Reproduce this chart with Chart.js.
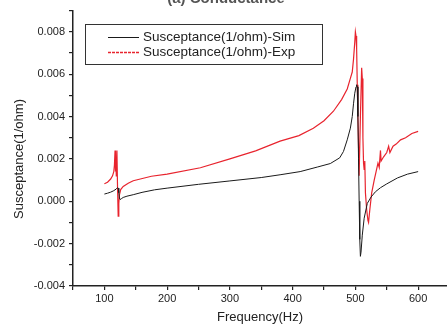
<!DOCTYPE html>
<html>
<head>
<meta charset="utf-8">
<script src="https://cdn.jsdelivr.net/npm/chart.js@4"></script>
<style>
  html, body { margin: 0; padding: 0; background: #fff; overflow: hidden; }
  #graph { display: block; }
</style>
</head>
<body>
<canvas id="graph" width="447" height="330"></canvas>
<script>
// frequency (Hz) and susceptance (1/ohm)
var simFreq = [100, 105, 110, 115, 119, 121, 122, 123, 124, 125, 127, 130, 136, 146, 160, 180, 200, 250, 300, 350, 380, 412, 440, 460, 475, 481, 487, 492, 495, 497, 499, 501, 502, 503, 504, 505, 506, 507, 508, 509, 511, 514, 519, 525, 532, 540, 550, 567, 583, 600];
var simVal = [0.00034, 0.00038, 0.00043, 0.0005, 0.00058, 0.00064, 0.00062, 0.0004, 0.00015, 0.00008, 0.00012, 0.00018, 0.00024, 0.00031, 0.00042, 0.00054, 0.00062, 0.0008, 0.00096, 0.00112, 0.00125, 0.0014, 0.00162, 0.00178, 0.00205, 0.00235, 0.0029, 0.00345, 0.004, 0.0046, 0.0051, 0.0054, 0.0055, 0.0054, 0.004, 0.002, 0.0, -0.0018, -0.0026, -0.0024, -0.0016, -0.0008, -0.0001, 0.0002, 0.00045, 0.00064, 0.00082, 0.0011, 0.00128, 0.0014];

var expFreq = [100, 105, 110, 113, 115, 116, 117, 117.5, 118, 119, 120, 121, 122, 123, 124, 126, 130, 138, 146, 175, 200, 253, 300, 341, 380, 410, 433, 450, 465, 478, 487, 492, 495, 497, 499, 500, 501, 502, 503, 504, 506, 508, 510, 511, 512, 513, 514, 515, 516, 518, 520, 521, 523, 526, 530, 533, 536, 538, 540, 541, 545, 550, 553, 555, 560, 565, 572, 580, 590, 600];
var expVal = [0.00083, 0.0009, 0.00105, 0.0012, 0.0014, 0.0017, 0.0024, 0.0014, 0.0024, 0.0012, 0.0024, 0.0006, -0.0007, -0.0001, 0.0003, 0.00055, 0.0007, 0.00085, 0.00097, 0.00118, 0.00128, 0.00158, 0.002, 0.00238, 0.00284, 0.0031, 0.00345, 0.0038, 0.00425, 0.0048, 0.0053, 0.0058, 0.0061, 0.0067, 0.0075, 0.008, 0.0078, 0.0072, 0.0055, 0.004, 0.0012, 0.004, 0.0063, 0.0058, 0.003, 0.0018, 0.0015, 0.0019, 0.0004, -0.0004, -0.0009, -0.001, -0.0004, 0.0004, 0.001, 0.0014, 0.0018, 0.0016, 0.0024, 0.0019, 0.0021, 0.0023, 0.0026, 0.0023, 0.0026, 0.0027, 0.0029, 0.003, 0.0032, 0.0033];

var seriesNames = ['Susceptance(1/ohm)-Sim', 'Susceptance(1/ohm)-Exp'];
var seriesColors = ['#1a1a1a', '#e8242e'];
var xTickLabels = [100, 200, 300, 400, 500, 600];
var yTickLabels = [-0.004, -0.002, 0.000, 0.002, 0.004, 0.006, 0.008];
var chartTitle = '(a) Conductance';

function pts(xs, ys) {
    var out = [];
    for (var i = 0; i < xs.length; i++) out.push({x: xs[i], y: ys[i]});
    return out;
}

var FONT = '"Liberation Sans", Arial, sans-serif';

var extras = {
    id: 'extras',
    afterDraw: function (chart) {
        var ctx = chart.ctx;
        ctx.save();
        // title, cut off by the top edge
        ctx.fillStyle = '#555';
        ctx.font = 'bold 15px ' + FONT;
        ctx.textAlign = 'center';
        ctx.textBaseline = 'alphabetic';
        ctx.fillText(chartTitle, 226, 3);

        // y axis title
        ctx.save();
        ctx.translate(19, 159);
        ctx.rotate(-Math.PI / 2);
        ctx.fillStyle = '#222';
        ctx.font = '13px ' + FONT;
        ctx.textBaseline = 'middle';
        ctx.fillText('Susceptance(1/ohm)', 0, 0);
        ctx.restore();

        // legend box
        ctx.strokeStyle = '#333';
        ctx.lineWidth = 1;
        ctx.strokeRect(85.5, 24.5, 237, 40);
        ctx.font = '13.5px ' + FONT;
        ctx.textAlign = 'left';
        ctx.textBaseline = 'middle';
        var rows = [37, 52];
        for (var i = 0; i < 2; i++) {
            ctx.beginPath();
            ctx.strokeStyle = seriesColors[i];
            ctx.lineWidth = i === 0 ? 1 : 1.3;
            ctx.setLineDash(i === 0 ? [] : [3, 1]);
            ctx.moveTo(108, rows[i] + 0.5);
            ctx.lineTo(139, rows[i] + 0.5);
            ctx.stroke();
            ctx.setLineDash([]);
            ctx.fillStyle = '#222';
            ctx.fillText(seriesNames[i], 143, rows[i]);
        }
        ctx.restore();
    }
};

var ctx = document.querySelector('#graph').getContext('2d');
var myChart = new Chart(ctx, {
    type: 'line',
    data: {
        datasets: [
            {
                label: seriesNames[0],
                data: pts(simFreq, simVal),
                borderColor: seriesColors[0],
                borderWidth: 1,
                pointRadius: 0,
                tension: 0
            },
            {
                label: seriesNames[1],
                data: pts(expFreq, expVal),
                borderColor: seriesColors[1],
                borderWidth: 1.2,
                pointRadius: 0,
                tension: 0
            }
        ]
    },
    options: {
        responsive: false,
        animation: false,
        layout: { padding: { top: 9, right: 0, left: 0, bottom: 0 } },
        plugins: { legend: { display: false }, tooltip: { enabled: false } },
        scales: {
            x: {
                type: 'linear',
                min: 50,
                max: 646,
                afterBuildTicks: function (scale) {
                    var t = [];
                    for (var v = 50; v <= 600; v += 50) t.push({value: v});
                    scale.ticks = t;
                },
                afterFit: function (scale) { scale.height = 44; },
                ticks: {
                    autoSkip: false,
                    maxRotation: 0,
                    padding: 2,
                    color: '#222',
                    font: { family: FONT, size: 11 },
                    callback: function (v) {
                        return xTickLabels.indexOf(v) >= 0 ? String(v) : '';
                    }
                },
                grid: { drawOnChartArea: false, tickLength: 4, color: '#222', lineWidth: 1.2 },
                border: { color: '#222', width: 1.5 },
                title: {
                    display: true,
                    text: 'Frequency(Hz)',
                    color: '#222',
                    font: { family: FONT, size: 13 },
                    padding: { top: 2, bottom: 5 }
                }
            },
            y: {
                min: -0.004,
                max: 0.009,
                afterBuildTicks: function (scale) {
                    var t = [];
                    for (var k = -4; k <= 9; k++) t.push({value: k / 1000});
                    scale.ticks = t;
                },
                afterFit: function (scale) { scale.width = 73; },
                ticks: {
                    autoSkip: false,
                    padding: 4,
                    color: '#222',
                    font: { family: FONT, size: 11 },
                    callback: function (v) {
                        var k = Math.round(v * 1000);
                        for (var i = 0; i < yTickLabels.length; i++) {
                            if (Math.round(yTickLabels[i] * 1000) === k) return yTickLabels[i].toFixed(3);
                        }
                        return '';
                    }
                },
                grid: { drawOnChartArea: false, tickLength: 4, color: '#222', lineWidth: 1.2 },
                border: { color: '#222', width: 1.5 }
            }
        }
    },
    plugins: [extras]
});
</script>
</body>
</html>
